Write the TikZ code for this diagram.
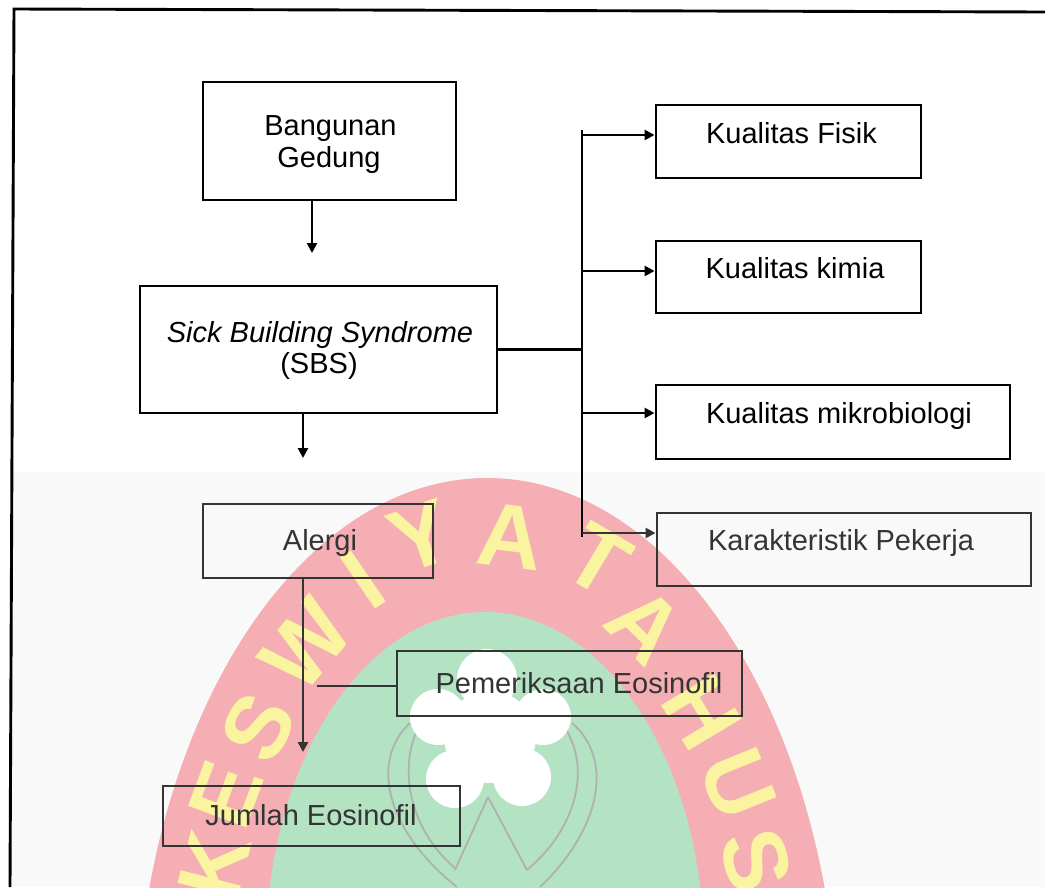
\documentclass[tikz,border=0pt]{standalone}
\usepackage{fontspec}
\setmainfont{Liberation Sans}
\usetikzlibrary{arrows.meta}
\definecolor{pinkc}{RGB}{244,174,180}
\definecolor{greenc}{RGB}{179,227,194}
\definecolor{yellowc}{RGB}{250,244,160}
\definecolor{bgc}{RGB}{249,249,249}
\definecolor{lowc}{RGB}{52,52,52}
\definecolor{curvec}{RGB}{176,176,176}
\begin{document}
\begin{tikzpicture}[x=1pt,y=-1pt,
  box/.style={draw,line width=2.9pt,inner sep=0pt},
  txt/.style={inner sep=0pt,anchor=base,font=\fontsize{29}{32}\selectfont},
  ln/.style={line width=2.9pt},
  arr/.style={line width=2.9pt,-{Triangle[length=10pt,width=10pt]}},
  wm/.style={inner sep=0pt,text=yellowc,font=\fontsize{90}{90}\selectfont\bfseries}]
\useasboundingbox (0,0) rectangle (1045,887);
% watermark background
\fill[white] (0,0) rectangle (1045,887);
\begin{scope}
  \clip (12,472) rectangle (1045,887);
  \fill[bgc] (12,472) rectangle (1045,887);
  \fill[pinkc] (487,1050) ellipse [x radius=352pt, y radius=572pt];
  \fill[greenc] (485,950) ellipse [x radius=219pt, y radius=338pt];
  \draw[curvec,line width=1.8pt] (410,723) .. controls (370,760) and (385,830) .. (457,887);
  \draw[curvec,line width=1.8pt] (418,728) .. controls (398,770) and (410,830) .. (455,868);
  \draw[curvec,line width=1.8pt] (572,723) .. controls (615,760) and (600,830) .. (540,887);
  \draw[curvec,line width=1.8pt] (565,728) .. controls (592,770) and (575,830) .. (527,870);
  \draw[curvec,line width=1.8pt] (488,797) -- (455,870);
  \draw[curvec,line width=1.8pt] (488,797) -- (527,870);
  \fill[white] (487,679) circle [radius=30pt];
  \fill[white] (490,737) circle [radius=46pt];
  \fill[white] (438,717) circle [radius=28pt];
  \fill[white] (543,717) circle [radius=28pt];
  \fill[white] (455,779) circle [radius=29pt];
  \fill[white] (522,777) circle [radius=29pt];
  \node[wm,rotate=75.6] (w1) at (215,865) {K};
  \node[wm,rotate=69.6] (w2) at (226,795) {E};
  \node[wm,rotate=61.9] (w3) at (258,727) {S};
  \node[wm,rotate=49.9] (w4) at (306,645) {W};
  \node[wm,rotate=34.4] (w5) at (363,580) {I};
  \node[wm,rotate=19] (w6) at (421,536) {Y};
  \node[wm,rotate=-6.7] (w7) at (510,537) {A};
  \node[wm,rotate=-30.9] (w8) at (598,560) {T};
  \node[wm,rotate=-44.5] (w9) at (645,625) {A};
  \node[wm,rotate=-59] (w10) at (702,712) {H};
  \node[wm,rotate=-68] (w11) at (738,784) {U};
  \node[wm,rotate=-75] (w12) at (756,860) {S};
\end{scope}
% frame
\draw[line width=2.9pt] (1045,12) -- (14,9) -- (10,887);
% boxes
\node[box,minimum width=253pt,minimum height=118pt] (bg) at (329.5,141) {};
\node[box,minimum width=357pt,minimum height=127pt] (sbs) at (318.5,349.5) {};
\node[box,minimum width=265pt,minimum height=73pt] (kf) at (788.5,141.5) {};
\node[box,minimum width=265pt,minimum height=72pt] (kk) at (788.5,277) {};
\node[box,minimum width=354pt,minimum height=74pt] (km) at (833,422) {};
\node[box,draw=lowc,minimum width=374pt,minimum height=73pt] (kp) at (844,549.5) {};
\node[box,draw=lowc,minimum width=230pt,minimum height=74pt] (al) at (318,541) {};
\node[box,draw=lowc,minimum width=345pt,minimum height=65pt] (pe) at (569.5,683.5) {};
\node[box,draw=lowc,minimum width=297pt,minimum height=60pt] (je) at (311.5,816) {};
% texts
\node[txt] (t1) at (330.5,135) {Bangunan};
\node[txt] (t2) at (329,167) {Gedung};
\node[txt] (t3) at (320,342) {\itshape Sick Building Syndrome};
\node[txt] (t4) at (319,373) {(SBS)};
\node[txt] (t5) at (791.5,143) {Kualitas Fisik};
\node[txt] (t6) at (795,278) {Kualitas kimia};
\node[txt] (t7) at (839,423) {Kualitas mikrobiologi};
\node[txt,text=lowc] (t8) at (841,550) {Karakteristik Pekerja};
\node[txt,text=lowc] (t9) at (320,550) {Alergi};
\node[txt,text=lowc] (t10) at (579,693) {Pemeriksaan Eosinofil};
\node[txt,text=lowc] (t11) at (311,825) {Jumlah Eosinofil};
% connectors
\coordinate (a1) at (312,253);
\coordinate (a2) at (303,458);
\coordinate (a3) at (303,752);
\coordinate (j1) at (582,130);
\coordinate (j2) at (582,537);
\coordinate (p1) at (317,686);
\draw[arr] (bg.south -| a1) -- (a1);
\draw[arr] (sbs.south -| a2) -- (a2);
\draw[ln] (sbs.east) -- (sbs.east -| j1);
\draw[ln] (j1) -- (j2);
\draw[arr] ([yshift=6.5pt]kf.west -| j1) -- ([yshift=6.5pt]kf.west);
\draw[arr] ([yshift=6pt]kk.west -| j1) -- ([yshift=6pt]kk.west);
\draw[arr] ([yshift=9pt]km.west -| j1) -- ([yshift=9pt]km.west);
\draw[arr,lowc] ([yshift=16.5pt]kp.west -| j1) -- ([yshift=16.5pt]kp.west);
\draw[arr,lowc] (al.south -| a3) -- (a3);
\draw[ln,lowc] (p1) -- (pe.west |- p1);
\end{tikzpicture}
\end{document}
